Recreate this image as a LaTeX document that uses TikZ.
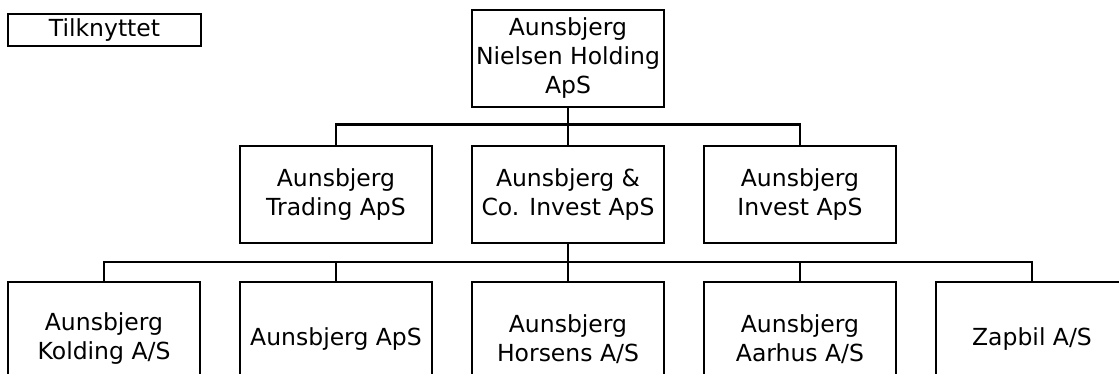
\documentclass[tikz,border=0pt]{standalone}
\usepackage{fontspec}
\setmainfont{DejaVu Sans}
\usepackage{tikz}
\usetikzlibrary{positioning,calc}

\begin{document}
\begin{tikzpicture}[x=1pt,y=1pt,
	firma/.style={draw,line width=2.5pt,minimum width=192pt,minimum height=97pt,inner sep=0pt,align=center,font=\fontsize{23.5}{29}\selectfont},
	datter/.style={firma,minimum height=114pt},
	forbind/.style={line width=2.5pt}]
						\useasboundingbox (0,0) rectangle (1119,-374);
						\clip (0,0) rectangle (1119,-374);
						% forklaring
						\node[draw,line width=2.5pt,minimum width=193pt,minimum height=32pt,inner sep=0pt,font=\fontsize{23.5}{29}\selectfont] (tilk) at (104.5,-30) {Tilknyttet};
						% holding
						\node[firma] (holding) at (568,-58.5) {Aunsbjerg\\Nielsen Holding\\ApS};
						% mellemste niveau
						\node[firma] (trading) at (336,-194.5) {Aunsbjerg\\Trading ApS};
						\node[firma] (coinvest) at (568,-194.5) {Aunsbjerg \&\\Co. Invest ApS};
						\node[firma] (invest) at (800,-194.5) {Aunsbjerg\\Invest ApS};
						% nederste niveau
						\node[datter] (kolding) at (104,-339) {Aunsbjerg\\Kolding A/S};
						\node[datter] (aps) at (336,-339) {Aunsbjerg ApS};
						\node[datter] (horsens) at (568,-339) {Aunsbjerg\\Horsens A/S};
						\node[datter] (aarhus) at (800,-339) {Aunsbjerg\\Aarhus A/S};
						\node[datter] (zapbil) at (1032,-339) {Zapbil A/S};
						% linjer
						\draw[forbind] (holding.south) -- (coinvest.north);
						\draw[forbind] (trading.north) -- ++(0,20) -| (invest.north);
						\draw[forbind] (coinvest.south) -- (horsens.north);
						\draw[forbind] (kolding.north) -- ++(0,19) -| (zapbil.north);
						\draw[forbind] (aps.north) -- ++(0,19);
						\draw[forbind] (aarhus.north) -- ++(0,19);
					\end{tikzpicture}
\end{document}
